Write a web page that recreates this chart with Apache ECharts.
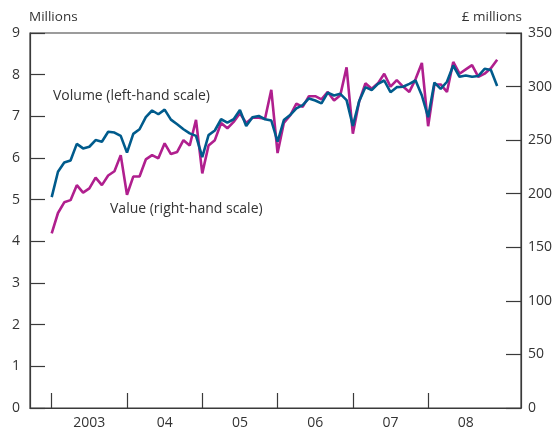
<!DOCTYPE html>
<html>
<head>
<meta charset="utf-8">
<script src="https://cdn.jsdelivr.net/npm/echarts@6/dist/echarts.min.js"></script>
<style>
    html, body { margin: 0; padding: 0; background: #fff; }
    #chart { width: 558px; height: 430px; }
</style>
</head>
<body>
<div id="chart"></div>
<script>
// monthly, Jan 2003 .. Dec 2008 (index 0 = Jan 2003)
var years = ['2003', '04', '05', '06', '07', '08'];

// volume, millions (left-hand scale)
var volume = [
    5.06, 5.67, 5.89, 5.94, 6.34, 6.23, 6.27, 6.43, 6.39, 6.63, 6.61, 6.53,
    6.13, 6.58, 6.69, 6.98, 7.14, 7.05, 7.16, 6.92, 6.81, 6.69, 6.59, 6.53,
    6.02, 6.55, 6.66, 6.93, 6.85, 6.93, 7.15, 6.77, 6.98, 7.01, 6.93, 6.90,
    6.39, 6.91, 7.03, 7.19, 7.27, 7.43, 7.38, 7.31, 7.57, 7.50, 7.54, 7.39,
    6.77, 7.36, 7.70, 7.63, 7.78, 7.86, 7.58, 7.70, 7.71, 7.78, 7.86, 7.50,
    6.98, 7.81, 7.66, 7.83, 8.22, 7.95, 7.98, 7.95, 7.97, 8.14, 8.11, 7.73
];

// value, £ millions (right-hand scale)
var value = [
    163, 182, 192, 194, 208, 201, 205, 215, 208, 217, 221, 236,
    199, 216, 216, 232, 236, 233, 247, 237, 239, 250, 245, 269,
    219, 245, 250, 266, 261, 267, 275, 266, 271, 271, 270, 297,
    238, 266, 273, 284, 281, 291, 291, 288, 295, 287, 292, 318,
    256, 286, 303, 298, 303, 312, 300, 306, 300, 295, 307, 322,
    263, 302, 302, 295, 323, 312, 316, 320, 309, 312, 317, 325
];

var leftTicks = [0, 1, 2, 3, 4, 5, 6, 7, 8, 9];
var rightTicks = [0, 50, 100, 150, 200, 250, 300, 350];

function pairs(arr) {
    var out = [];
    for (var i = 0; i < arr.length; i++) {
        out.push([i, arr[i]]);
    }
    return out;
}

var yearStarts = [];
var yearMids = [];
for (var k = 0; k < years.length; k++) {
    yearStarts.push(k * 12);
    yearMids.push(k * 12 + 6);
}

var font = '"Open Sans", "Noto Sans", sans-serif';
var axisColor = '#3a3a3a';
var textColor = '#333';

var chart = echarts.init(document.getElementById('chart'));

var option = {
    animation: false,
    backgroundColor: '#fff',
    textStyle: { fontFamily: font },
    grid: {
        left: 30,
        right: 37,
        top: 33,
        bottom: 22,
        containLabel: false,
        outerBoundsMode: 'none',
        show: true,
        borderColor: axisColor,
        borderWidth: 1.2
    },
    xAxis: {
        type: 'value',
        min: -3.46,
        max: 74.8,
        splitLine: { show: false },
        axisLine: { show: true, onZero: false, lineStyle: { color: axisColor, width: 1.2 } },
        axisTick: {
            show: true,
            inside: true,
            length: 15,
            customValues: yearStarts,
            lineStyle: { color: axisColor, width: 1.2 }
        },
        axisLabel: {
            customValues: yearMids,
            margin: 8,
            color: textColor,
            fontSize: 14,
            fontFamily: font,
            formatter: function (v) {
                return years[Math.round((v - 6) / 12)];
            }
        }
    },
    yAxis: [{
        type: 'value',
        min: 0,
        max: 9,
        interval: 1,
        position: 'left',
        splitLine: { show: false },
        axisLine: { show: true, onZero: false, lineStyle: { color: axisColor, width: 1.2 } },
        axisTick: { show: true, inside: true, length: 15, lineStyle: { color: axisColor, width: 1.2 } },
        axisLabel: {
            margin: 10,
            color: textColor,
            fontSize: 14,
            fontFamily: font,
            formatter: function (v) { return leftTicks.indexOf(v) >= 0 ? String(v) : ''; }
        }
    }, {
        type: 'value',
        min: 0,
        max: 350,
        interval: 50,
        position: 'right',
        splitLine: { show: false },
        axisLine: { show: true, onZero: false, lineStyle: { color: axisColor, width: 1.2 } },
        axisTick: { show: true, inside: true, length: 15, lineStyle: { color: axisColor, width: 1.2 } },
        axisLabel: {
            margin: 7,
            color: textColor,
            fontSize: 14,
            fontFamily: font,
            formatter: function (v) { return rightTicks.indexOf(v) >= 0 ? String(v) : ''; }
        }
    }],
    graphic: [{
        type: 'text',
        left: 29,
        top: 10,
        style: { text: 'Millions', fill: textColor, font: '13.5px ' + font }
    }, {
        type: 'text',
        right: 36,
        top: 10,
        style: { text: '£ millions', fill: textColor, font: '13.5px ' + font }
    }, {
        type: 'text',
        left: 53,
        top: 89,
        style: { text: 'Volume (left-hand scale)', fill: textColor, font: '14px ' + font }
    }, {
        type: 'text',
        left: 110,
        top: 202,
        style: { text: 'Value (right-hand scale)', fill: textColor, font: '14px ' + font }
    }],
    series: [{
        name: 'Value',
        type: 'line',
        yAxisIndex: 1,
        data: pairs(value),
        symbol: 'none',
        lineStyle: { color: '#b01f8e', width: 2.6 },
        z: 2
    }, {
        name: 'Volume',
        type: 'line',
        yAxisIndex: 0,
        data: pairs(volume),
        symbol: 'none',
        lineStyle: { color: '#005b8c', width: 2.6 },
        z: 3
    }]
};

chart.setOption(option);
</script>
</body>
</html>
